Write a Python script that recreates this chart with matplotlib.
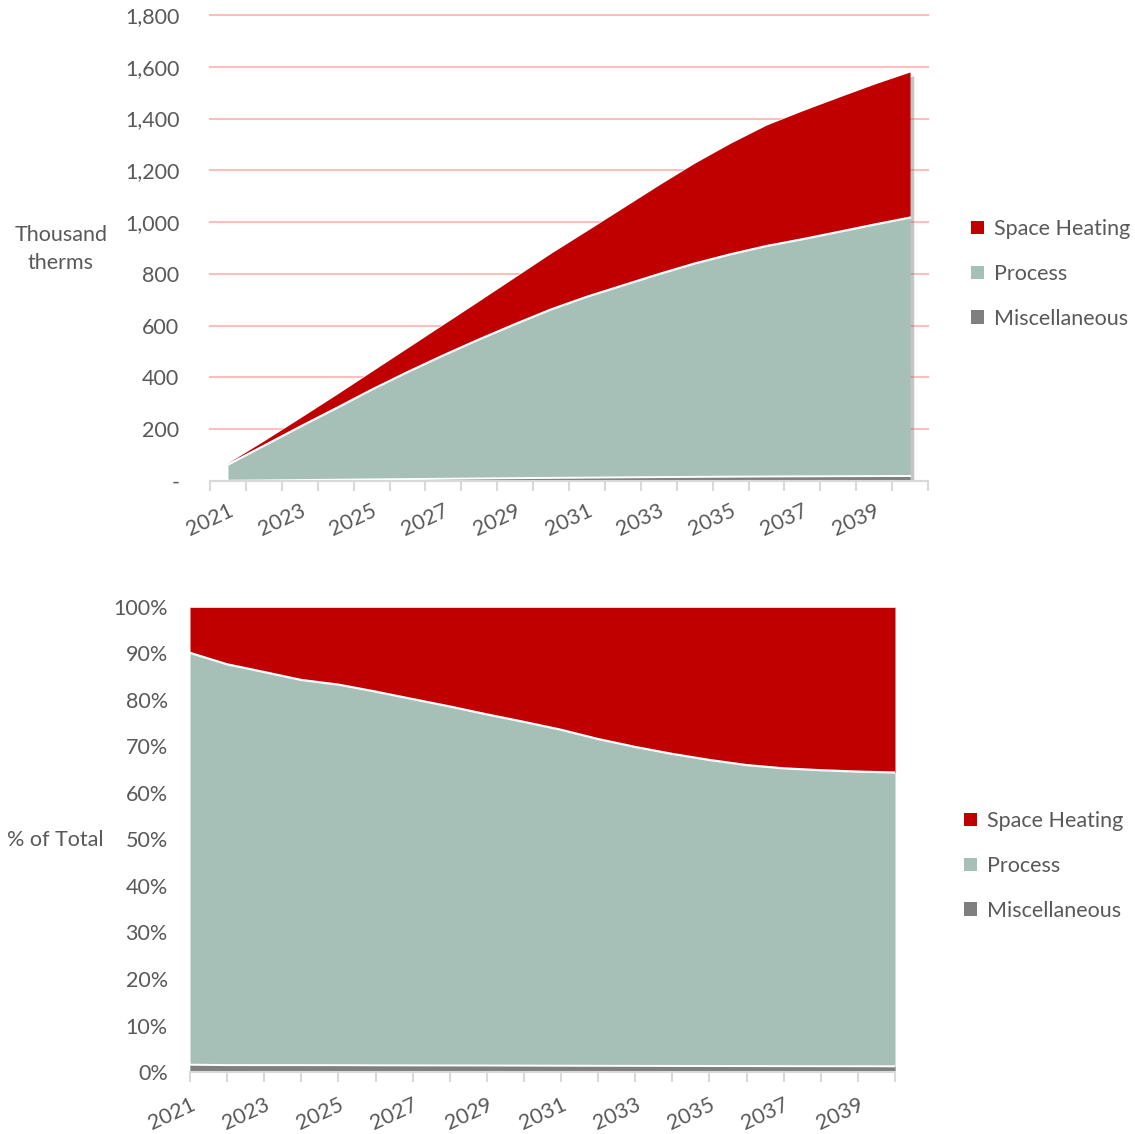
import matplotlib
matplotlib.use('Agg')
import matplotlib.pyplot as plt
import matplotlib.patheffects as pe
from matplotlib.patches import Patch
import numpy as np

plt.rcParams['font.family'] = ['Lato', 'DejaVu Sans']

# thousand therms by end use, 2021-2040
years = [2021, 2022, 2023, 2024, 2025, 2026, 2027, 2028, 2029, 2030,
         2031, 2032, 2033, 2034, 2035, 2036, 2037, 2038, 2039, 2040]
miscellaneous = [1.1, 2.3, 3.6, 4.9, 6.2, 7.4, 8.6, 9.8, 11.0, 12.1,
                 13.1, 14.1, 15.1, 16.0, 16.8, 17.5, 18.0, 18.5, 19.0, 19.4]
process = [62.0, 133.6, 205.4, 275.0, 346.2, 413.1, 476.6, 537.3, 595.0, 650.5,
           698.6, 741.3, 783.9, 824.0, 858.9, 890.0, 915.8, 943.3, 971.3, 998.1]
space_heating = [6.9, 19.1, 34.0, 52.1, 70.6, 93.5, 119.8, 148.9, 182.0, 217.4,
                 255.3, 299.6, 344.0, 388.0, 429.3, 467.5, 496.2, 520.2, 542.7, 562.5]

labels = ['Space Heating', 'Process', 'Miscellaneous']
colors = ['#C00000', '#A6BFB7', '#7F7F7F']
text_c = '#595959'
axis_c = '#D9D9D9'
fs = 15.5

x = np.arange(len(years))
misc = np.array(miscellaneous)
proc = np.array(process)
heat = np.array(space_heating)
low = misc
mid = misc + proc
total = mid + heat

fig = plt.figure(figsize=(11.35, 11.34), dpi=100)
W, H = 1135, 1134


def frame(x0, y0, x1, y1):
    return [x0 / W, 1 - y1 / H, (x1 - x0) / W, (y1 - y0) / H]


def draw_stack(ax, lo, md, tp):
    # soft drop shadow behind the whole stack
    shadow = [pe.SimplePatchShadow(offset=(3, -3), shadow_rgbFace='#7F7F7F', alpha=0.45), pe.Normal()]
    ax.fill_between(x, 0, tp, color='white', lw=0, path_effects=shadow, zorder=2)
    ax.fill_between(x, md, tp, color=colors[0], lw=0, zorder=3)
    ax.fill_between(x, 0, md, color=colors[1], lw=0, zorder=3)
    ax.plot(x, md, color='white', lw=1.6, zorder=4)
    ax.fill_between(x, 0, lo, color=colors[2], lw=0, zorder=5)
    ax.plot(x, lo, color='white', lw=1.4, zorder=6)


def style(ax):
    for s in ['top', 'right', 'left']:
        ax.spines[s].set_visible(False)
    ax.spines['bottom'].set_color(axis_c)
    ax.spines['bottom'].set_linewidth(1.5)
    ax.spines['bottom'].set_zorder(7)
    ax.tick_params(axis='y', length=0, labelsize=fs, labelcolor=text_c)


def add_legend(x0, yc):
    handles = [Patch(facecolor=c, edgecolor='none') for c in colors]
    fig.legend(handles, labels, loc='center left', bbox_to_anchor=(x0 / W, 1 - yc / H),
               frameon=False, fontsize=fs, labelcolor=text_c, handlelength=0.6,
               handleheight=0.6, handletextpad=0.45, labelspacing=1.15, borderpad=0,
               borderaxespad=0)


# top chart: absolute consumption
ax1 = fig.add_axes(frame(210, 15, 928, 481))
draw_stack(ax1, low, mid, total)
style(ax1)
ax1.set_xlim(-0.5, len(years) - 0.5)
ax1.set_ylim(0, 1800)
ax1.set_yticks(np.arange(0, 1801, 200))
ax1.set_yticklabels(['-' if v == 0 else f'{v:,}' for v in range(0, 1801, 200)])
ax1.tick_params(axis='y', pad=22)
ax1.grid(axis='y', color='#FFBDBD', lw=1.5)
for g in ax1.get_ygridlines():
    g.set_clip_on(False)
ax1.set_axisbelow(True)
ax1.set_xticks(np.arange(-0.5, len(years), 1))
ax1.set_xticklabels([])
ax1.set_xticks(x[::2], [str(y) for y in years[::2]], minor=True)
ax1.tick_params(axis='x', which='major', length=7, color=axis_c, width=1.5)
ax1.tick_params(axis='x', which='minor', length=0, pad=14, labelsize=fs, labelcolor=text_c)
plt.setp(ax1.get_xticklabels(minor=True), rotation=25, ha='right', rotation_mode='anchor')
fig.text(61 / W, 1 - 249 / H, 'Thousand\ntherms', ha='center', va='center',
         fontsize=fs, color=text_c, linespacing=1.45)
add_legend(971, 274)

# bottom chart: share of total
ax2 = fig.add_axes(frame(190, 607, 895, 1072))
draw_stack(ax2, low / total * 100, mid / total * 100, np.full(len(x), 100.0))
style(ax2)
ax2.set_xlim(0, len(years) - 1)
ax2.set_ylim(0, 100)
ax2.set_yticks(np.arange(0, 101, 10))
ax2.set_yticklabels([f'{v}%' for v in range(0, 101, 10)])
ax2.tick_params(axis='y', pad=16)
ax2.set_xticks(x, [str(y) if i % 2 == 0 else '' for i, y in enumerate(years)])
ax2.tick_params(axis='x', length=7, color=axis_c, width=1.5, pad=9, labelsize=fs, labelcolor=text_c)
plt.setp(ax2.get_xticklabels(), rotation=25, ha='right', rotation_mode='anchor')
ax2.axhline(100, color='#E6E6E6', lw=1.2, zorder=6)
fig.text(55 / W, 1 - 840 / H, '% of Total', ha='center', va='center', fontsize=fs, color=text_c)
add_legend(964, 866)

fig.savefig('out.png', dpi=100)
